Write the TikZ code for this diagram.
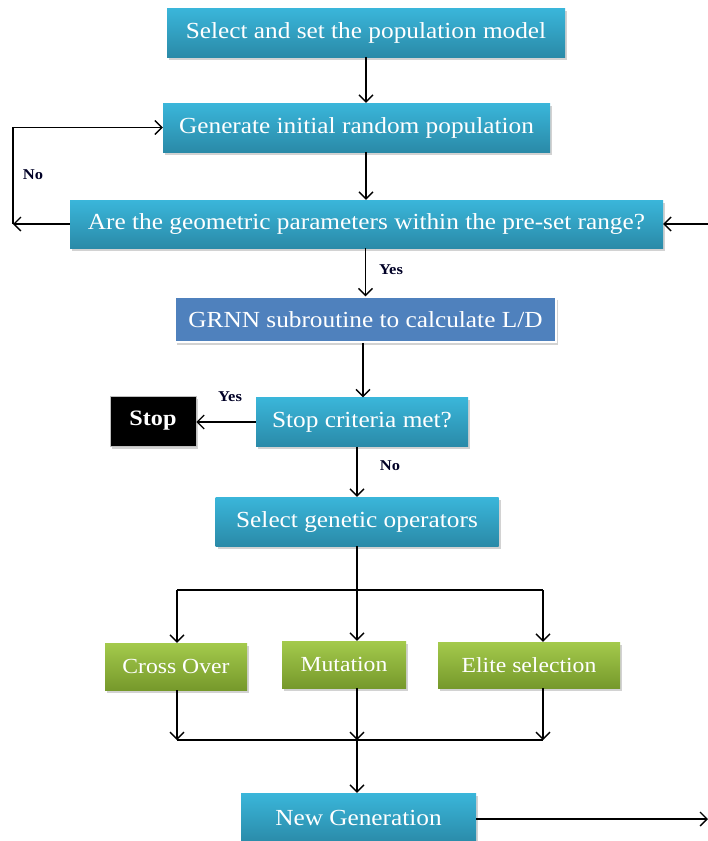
\documentclass[tikz,border=0pt]{standalone}
\usepackage{fontspec}
\setmainfont[FakeStretch=1.1]{Liberation Serif}
\usetikzlibrary{arrows.meta,shadows}
\definecolor{tealtop}{HTML}{3AB6DA}
\definecolor{tealbot}{HTML}{2A8AA8}
\definecolor{greentop}{HTML}{A4CA4C}
\definecolor{greenbot}{HTML}{76992B}
\definecolor{grnnblue}{HTML}{4F81BD}
\tikzset{
  boxbase/.style={draw=none, text=white, inner sep=0pt, font=\fontsize{23}{27}\selectfont,
    drop shadow={opacity=0.35, shadow xshift=2pt, shadow yshift=-2.5pt}},
  tealbox/.style={boxbase, top color=tealtop, bottom color=tealbot},
  greenbox/.style={boxbase, top color=greentop, bottom color=greenbot, font=\fontsize{21.5}{25}\selectfont},
  bluebox/.style={boxbase, fill=grnnblue, draw=white, line width=1.5pt},
  stopbox/.style={boxbase, fill=black, draw=gray!50, line width=0.6pt, font=\bfseries\fontsize{22}{26}\selectfont},
  arr/.style={-{Straight Barb[length=7pt,width=14pt,line width=1.3pt]}, line width=1.3pt},
  conn/.style={line width=1.3pt},
  lbl/.style={font=\bfseries\fontsize{15}{18}\selectfont, text=black!85!blue}
}
\begin{document}
\begin{tikzpicture}[x=1pt,y=-1pt]
\useasboundingbox[fill=white] (0,0) rectangle (708,841);
% boxes
\node[tealbox, minimum width=398pt, minimum height=49pt] (b1) at (366,32.5) {Select and set the population model};
\node[tealbox, minimum width=387pt, minimum height=49pt] (b2) at (356.5,127.5) {Generate initial random population};
\node[tealbox, minimum width=593pt, minimum height=48pt] (b3) at (366.5,224) {Are the geometric parameters within the pre-set range?};
\node[bluebox, minimum width=381pt, minimum height=45pt] (b4) at (365.5,319.5) {GRNN subroutine to calculate L/D};
\node[tealbox, minimum width=212pt, minimum height=49pt] (b5) at (362,422) {Stop criteria met?};
\node[stopbox, minimum width=86pt, minimum height=50pt] (stop) at (153,421) {Stop};
\node[tealbox, minimum width=283pt, minimum height=49pt] (b6) at (357,521.5) {Select genetic operators};
\node[greenbox, minimum width=142pt, minimum height=47pt] (g1) at (176,666.5) {Cross Over};
\node[greenbox, minimum width=124pt, minimum height=47pt] (g2) at (344,664.5) {Mutation};
\node[greenbox, minimum width=182pt, minimum height=46pt] (g3) at (529,665) {Elite selection};
\node[tealbox, minimum width=235pt, minimum height=50pt] (b7) at (358.5,818) {New Generation};
% labels
\node[lbl] (no1) at (33,175) {No};
\node[lbl] (yes1) at (391,270) {Yes};
\node[lbl] (yes2) at (230,397) {Yes};
\node[lbl] (no2) at (390,466) {No};
% coordinates
\coordinate (lc) at (13,224);
\coordinate (ri) at (708,224);
\coordinate (bl) at (177,590);
\coordinate (bm) at (357,590);
\coordinate (br) at (543,590);
\coordinate (ml) at (177,740);
\coordinate (mm) at (357,740);
\coordinate (mr) at (543,740);
\coordinate (re) at (708,819);
% connectors
\draw[arr] (366,0 |- b1.south) -- (366,0 |- b2.north);
\draw[arr] (366,0 |- b2.south) -- (366,0 |- b3.north);
\draw[arr] (b4.north |- b3.south) -- (b4.north);
\draw[arr] (363,0 |- b4.south) -- (363,0 |- b5.north);
\draw[arr] (b6.north |- b5.south) -- (b6.north);
\draw[arr] (b3.west) -- (lc);
\draw[arr] (lc) |- (b2.west);
\draw[arr] (ri) -- (b3.east);
\draw[arr] (b5.west) -- (b5.west -| stop.east);
\draw[conn] (b6.south) -- (bm);
\draw[conn] (bl) -- (br);
\draw[arr] (bl) -- (bl |- g1.north);
\draw[arr] (bm) -- (bm |- g2.north);
\draw[arr] (br) -- (br |- g3.north);
\draw[arr] (ml |- g1.south) -- (ml);
\draw[arr] (mm |- g2.south) -- (mm);
\draw[arr] (mr |- g3.south) -- (mr);
\draw[conn] (ml) -- (mr);
\draw[arr] (mm) -- (mm |- b7.north);
\draw[arr] (b7.east |- re) -- (re);
\end{tikzpicture}
\end{document}
